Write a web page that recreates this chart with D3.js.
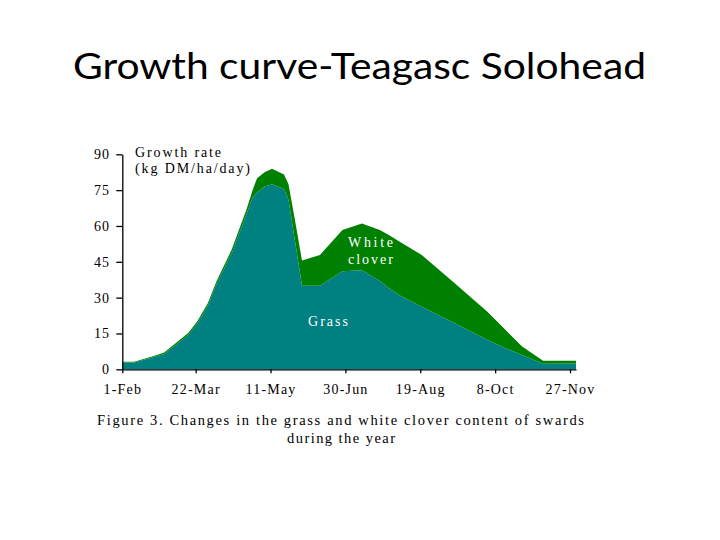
<!DOCTYPE html>
<html>
<head>
<meta charset="utf-8">
<script src="https://cdn.jsdelivr.net/npm/d3@7"></script>
<style>
  body { margin: 0; background: #fff; }
  .axis text { font-family: "Liberation Serif", "Times New Roman", "DejaVu Serif", serif; font-size: 14px; fill: #000; letter-spacing: 1.2px; }
  .axis path, .axis line { stroke: #000; stroke-width: 1.3px; }
</style>
</head>
<body>
<div id="chart"></div>
<script>
// growth rate, kg DM/ha/day
var dates = ["2001-02-01","2001-02-09","2001-02-22","2001-03-01","2001-03-10","2001-03-17",
  "2001-03-23","2001-03-30","2001-04-05","2001-04-15","2001-04-25","2001-04-29","2001-05-02",
  "2001-05-07","2001-05-12","2001-05-20","2001-05-23","2001-05-28","2001-06-01","2001-06-13",
  "2001-06-28","2001-07-11","2001-07-23","2001-07-29","2001-08-05","2001-08-20","2001-09-11",
  "2001-10-03","2001-10-15","2001-10-26","2001-11-09","2001-12-01"];
var grass = [2.8, 2.8, 5.1, 6.4, 10.9, 14.4, 19.1, 26.5, 35.8, 48.5, 65, 72, 74,
  76.5, 77.5, 75.5, 71, 51, 35, 35, 41, 41.5, 37, 34, 31, 26.2, 19.3,
  12.3, 8.8, 6, 2.3, 2.4];
var clover = [0.4, 0.4, 0.5, 0.6, 0.7, 0.8, 0.9, 1.0, 1.2, 1.5, 2, 3, 6,
  6, 6.5, 6, 6.5, 9, 10.5, 12.8, 17.3, 19.5, 21.3, 22.2, 22.5, 21.6, 16.7,
  11.7, 7.6, 3.5, 1.3, 1.2];
var tickDates = ["2001-02-01","2001-03-22","2001-05-11","2001-06-30","2001-08-19","2001-10-08","2001-11-27"];
var tickLabels = ["1-Feb","22-Mar","11-May","30-Jun","19-Aug","8-Oct","27-Nov"];
var yTicks = [0, 15, 30, 45, 60, 75, 90];

var width = 720, height = 540;
var margin = {left: 122.3, right: 144, top: 154.3, bottom: 170.7};
var parse = d3.timeParse("%Y-%m-%d");

var rows = dates.map(function(d, i) {
  return {date: parse(d), grass: grass[i], clover: clover[i]};
});

var svg = d3.select("#chart").append("svg")
  .attr("width", width)
  .attr("height", height);

var x = d3.scaleTime()
  .domain([parse("2001-02-01"), parse("2001-12-01")])
  .range([margin.left, width - margin.right]);
var y = d3.scaleLinear()
  .domain([0, 90])
  .range([height - margin.bottom, margin.top]);

var stack = d3.stack().keys(["grass", "clover"]);
var layers = stack(rows);
var colors = {grass: "#008080", clover: "#008000"};

var area = d3.area()
  .x(d => x(d.data.date))
  .y0(d => y(d[0]))
  .y1(d => y(d[1]));

svg.append("g").selectAll("path")
  .data(layers).enter()
  .append("path")
  .attr("d", area)
  .attr("fill", d => colors[d.key]);

/* axes */
var xAxis = d3.axisBottom(x)
  .tickValues(tickDates.map(parse))
  .tickFormat((d, i) => tickLabels[i])
  .tickSize(4).tickSizeOuter(0).tickPadding(11);
var yAxis = d3.axisLeft(y)
  .tickValues(yTicks)
  .tickSize(6).tickSizeOuter(0).tickPadding(6);

svg.append("g")
  .attr("class", "x axis")
  .attr("transform", `translate(0, ${y(0)})`)
  .call(xAxis);
svg.append("g")
  .attr("class", "y axis")
  .attr("transform", `translate(${x.range()[0]}, 0)`)
  .call(yAxis);
// d3 sets its own font on the axis group, put the serif back
svg.selectAll(".axis").attr("font-family", null).attr("font-size", null);

/* texts */
svg.append("text")
  .attr("x", 73).attr("y", 79)
  .attr("textLength", 573).attr("lengthAdjust", "spacingAndGlyphs")
  .style("font-family", "Lato, 'Open Sans', sans-serif")
  .style("font-size", "37px")
  .text("Growth curve-Teagasc Solohead");

var serif = "'Liberation Serif', 'Times New Roman', 'DejaVu Serif', serif";
function label(txt, px, py, len, col, size) {
  svg.append("text")
    .attr("x", px).attr("y", py)
    .attr("textLength", len).attr("lengthAdjust", "spacing")
    .style("font-family", serif)
    .style("font-size", size + "px")
    .style("fill", col)
    .text(txt);
}
label("Growth rate", 135, 157, 86, "#000", 14);
label("(kg DM/ha/day)", 135, 173, 115, "#000", 14);
label("White", 348, 247, 45, "#fff", 14);
label("clover", 348, 264, 45, "#fff", 14);
label("Grass", 308, 326, 40, "#fff", 14);
label("Figure 3. Changes in the grass and white clover content of swards", 97, 425, 487, "#000", 14.5);
label("during the year", 287, 443, 108, "#000", 14.5);
</script>
</body>
</html>
